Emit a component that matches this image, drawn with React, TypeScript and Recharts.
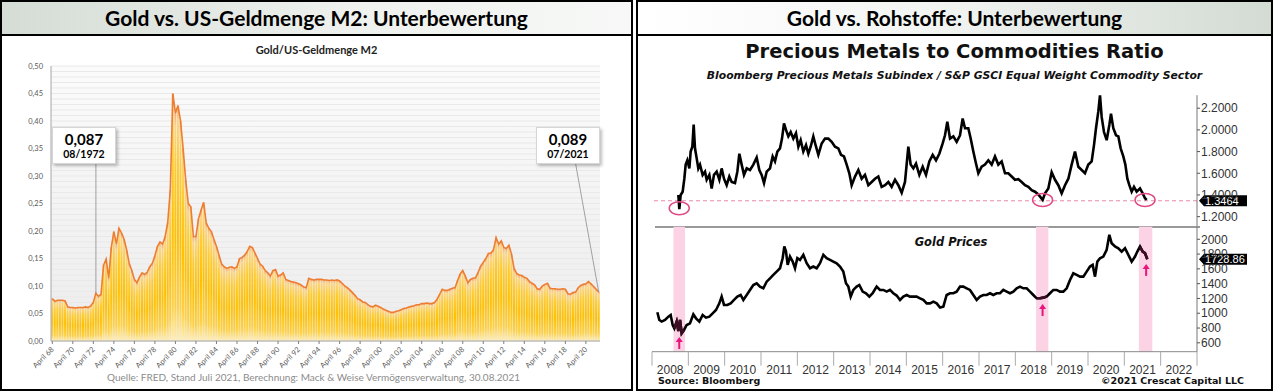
import React from "react";
import {
  ComposedChart,
  LineChart,
  Bar,
  Line,
  XAxis,
  YAxis,
  CartesianGrid,
  ReferenceLine,
  ReferenceArea,
  ReferenceDot,
} from "recharts";

// ---------- left: Gold / US-Geldmenge M2 (quarterly, first point April 1968)
const m2StartYear = 1968;
const m2Quarters = ["Jan", "April", "Juli", "Okt"];
const m2Ratio = [
  0.077, 0.072, 0.074, // 1968
  0.074, 0.074, 0.073, 0.062, // 1969
  0.061, 0.061, 0.060, 0.061, // 1970
  0.061, 0.061, 0.062, 0.061, // 1971
  0.064, 0.070, 0.087, 0.081, // 1972
  0.085, 0.138, 0.149, 0.114, // 1973
  0.170, 0.199, 0.176, 0.205, // 1974
  0.196, 0.185, 0.165, 0.141, // 1975
  0.128, 0.112, 0.106, 0.116, // 1976
  0.124, 0.121, 0.125, 0.135, // 1977
  0.141, 0.155, 0.172, 0.180, // 1978
  0.176, 0.190, 0.215, 0.275, // 1979
  0.450, 0.414, 0.428, 0.400, // 1980
  0.350, 0.293, 0.250, 0.244, // 1981
  0.190, 0.190, 0.222, 0.238, // 1982
  0.252, 0.215, 0.205, 0.199, // 1983
  0.185, 0.172, 0.156, 0.140, // 1984
  0.135, 0.132, 0.134, 0.135, // 1985
  0.132, 0.135, 0.150, 0.152, // 1986
  0.156, 0.163, 0.172, 0.170, // 1987
  0.160, 0.150, 0.140, 0.136, // 1988
  0.128, 0.124, 0.118, 0.128, // 1989
  0.130, 0.118, 0.120, 0.124, // 1990
  0.112, 0.110, 0.108, 0.107, // 1991
  0.106, 0.104, 0.102, 0.098, // 1992
  0.097, 0.114, 0.112, 0.111, // 1993
  0.112, 0.112, 0.112, 0.111, // 1994
  0.111, 0.110, 0.111, 0.110, // 1995
  0.111, 0.109, 0.105, 0.100, // 1996
  0.097, 0.093, 0.088, 0.083, // 1997
  0.077, 0.075, 0.071, 0.070, // 1998
  0.066, 0.063, 0.062, 0.065, // 1999
  0.063, 0.061, 0.058, 0.056, // 2000
  0.054, 0.052, 0.052, 0.054, // 2001
  0.055, 0.057, 0.059, 0.060, // 2002
  0.062, 0.063, 0.064, 0.066, // 2003
  0.066, 0.068, 0.068, 0.069, // 2004
  0.068, 0.068, 0.070, 0.076, // 2005
  0.085, 0.094, 0.092, 0.092, // 2006
  0.094, 0.096, 0.097, 0.110, // 2007
  0.122, 0.128, 0.118, 0.106, // 2008
  0.112, 0.114, 0.115, 0.125, // 2009
  0.136, 0.143, 0.150, 0.159, // 2010
  0.160, 0.166, 0.188, 0.176, // 2011
  0.182, 0.170, 0.168, 0.174, // 2012
  0.158, 0.132, 0.123, 0.120, // 2013
  0.119, 0.116, 0.114, 0.108, // 2014
  0.105, 0.102, 0.095, 0.094, // 2015
  0.100, 0.103, 0.105, 0.096, // 2016
  0.095, 0.095, 0.094, 0.094, // 2017
  0.095, 0.094, 0.086, 0.085, // 2018
  0.088, 0.089, 0.097, 0.101, // 2019
  0.103, 0.104, 0.108, 0.104, // 2020
  0.099, 0.094, 0.089, // 2021
];
const m2YTicks = [0, 0.05, 0.1, 0.15, 0.2, 0.25, 0.3, 0.35, 0.4, 0.45, 0.5];
const m2GridLines = Array.from({ length: 51 }, (_, i) => i / 100);

const m2Data = m2Ratio.map((ratio, i) => {
  const q = i + 1; // April 1968 is quarter 1 of 1968
  const year = m2StartYear + Math.floor(q / 4);
  return {
    cat: `${m2Quarters[q % 4]} ${String(year % 100).padStart(2, "0")}`,
    ratio,
  };
});

// ---------- right: Precious metals / commodities, gold price
const ratioSeries: [number, number][] = [
  [2008.725, 1.4], [2008.752, 1.27], [2008.789, 1.4], [2008.844, 1.43], [2008.89, 1.55],
  [2008.927, 1.68], [2008.972, 1.72], [2009.028, 1.645], [2009.064, 1.8], [2009.11, 1.845],
  [2009.147, 2.05], [2009.183, 1.83], [2009.229, 1.74], [2009.275, 1.645], [2009.321, 1.68],
  [2009.394, 1.585], [2009.459, 1.615], [2009.505, 1.54], [2009.578, 1.585], [2009.642, 1.46],
  [2009.706, 1.585], [2009.78, 1.615], [2009.853, 1.54], [2009.917, 1.645], [2009.982, 1.55],
  [2010.055, 1.49], [2010.128, 1.57], [2010.193, 1.52], [2010.284, 1.51], [2010.349, 1.615],
  [2010.404, 1.78], [2010.468, 1.68], [2010.532, 1.585], [2010.606, 1.645], [2010.697, 1.63],
  [2010.789, 1.68], [2010.881, 1.745], [2010.954, 1.63], [2011.018, 1.585], [2011.083, 1.51],
  [2011.156, 1.615], [2011.248, 1.645], [2011.321, 1.755], [2011.385, 1.71], [2011.45, 1.8],
  [2011.523, 1.83], [2011.578, 1.92], [2011.633, 2.06], [2011.688, 2.0], [2011.752, 1.94],
  [2011.817, 1.98], [2011.89, 1.92], [2011.963, 1.97], [2012.028, 1.845], [2012.092, 1.905],
  [2012.165, 1.8], [2012.239, 1.86], [2012.303, 1.78], [2012.367, 1.845], [2012.44, 1.94],
  [2012.514, 1.845], [2012.578, 1.77], [2012.67, 1.875], [2012.761, 1.92], [2012.853, 1.92],
  [2012.945, 1.89], [2013.037, 1.845], [2013.128, 1.83], [2013.202, 1.77], [2013.284, 1.755],
  [2013.358, 1.68], [2013.431, 1.6], [2013.495, 1.49], [2013.587, 1.57], [2013.679, 1.63],
  [2013.771, 1.55], [2013.862, 1.585], [2013.954, 1.49], [2014.046, 1.52], [2014.138, 1.55],
  [2014.229, 1.57], [2014.321, 1.475], [2014.413, 1.49], [2014.505, 1.52], [2014.596, 1.475],
  [2014.688, 1.54], [2014.78, 1.49], [2014.872, 1.42], [2014.963, 1.52], [2015.055, 1.845],
  [2015.119, 1.68], [2015.193, 1.645], [2015.266, 1.69], [2015.358, 1.585], [2015.45, 1.66],
  [2015.541, 1.585], [2015.633, 1.71], [2015.725, 1.77], [2015.817, 1.72], [2015.908, 1.78],
  [2016.0, 1.875], [2016.064, 1.95], [2016.128, 2.075], [2016.202, 1.92], [2016.294, 1.94],
  [2016.385, 1.89], [2016.477, 1.95], [2016.55, 2.105], [2016.615, 2.015], [2016.706, 2.015],
  [2016.771, 1.92], [2016.844, 1.8], [2016.917, 1.69], [2016.982, 1.6], [2017.073, 1.66],
  [2017.165, 1.68], [2017.257, 1.72], [2017.349, 1.68], [2017.44, 1.755], [2017.532, 1.68],
  [2017.624, 1.71], [2017.716, 1.6], [2017.807, 1.6], [2017.899, 1.57], [2017.991, 1.54],
  [2018.083, 1.545], [2018.174, 1.52], [2018.266, 1.49], [2018.358, 1.475], [2018.45, 1.445],
  [2018.541, 1.43], [2018.633, 1.405], [2018.752, 1.355], [2018.817, 1.415], [2018.908, 1.46],
  [2019.0, 1.61], [2019.092, 1.54], [2019.183, 1.49], [2019.275, 1.415], [2019.367, 1.49],
  [2019.459, 1.55], [2019.55, 1.68], [2019.642, 1.8], [2019.734, 1.66], [2019.826, 1.63],
  [2019.917, 1.6], [2020.009, 1.68], [2020.101, 1.71], [2020.165, 1.86], [2020.22, 2.015],
  [2020.284, 2.17], [2020.33, 2.32], [2020.376, 2.12], [2020.44, 1.98], [2020.514, 1.905],
  [2020.587, 2.045], [2020.633, 2.15], [2020.697, 2.015], [2020.771, 1.95], [2020.835, 1.94],
  [2020.899, 1.83], [2020.972, 1.755], [2021.028, 1.68], [2021.083, 1.55], [2021.138, 1.49],
  [2021.202, 1.43], [2021.266, 1.475], [2021.339, 1.43], [2021.431, 1.46], [2021.505, 1.415],
  [2021.569, 1.37], [2021.615, 1.355],
];

const goldSeries: [number, number][] = [
  [2008.147, 1013], [2008.202, 909], [2008.266, 887], [2008.358, 909], [2008.45, 954],
  [2008.514, 976], [2008.569, 841], [2008.615, 796], [2008.679, 887], [2008.725, 760],
  [2008.771, 909], [2008.817, 729], [2008.881, 774], [2008.954, 841], [2009.046, 864],
  [2009.138, 985], [2009.211, 931], [2009.303, 887], [2009.394, 976], [2009.486, 940],
  [2009.578, 954], [2009.67, 999], [2009.761, 1044], [2009.853, 1134], [2009.917, 1225],
  [2009.982, 1112], [2010.073, 1112], [2010.165, 1134], [2010.257, 1180], [2010.349, 1225],
  [2010.44, 1247], [2010.514, 1180], [2010.606, 1247], [2010.697, 1315], [2010.789, 1382],
  [2010.881, 1405], [2010.972, 1360], [2011.064, 1337], [2011.156, 1427], [2011.248, 1472],
  [2011.339, 1518], [2011.431, 1563], [2011.523, 1608], [2011.596, 1744], [2011.642, 1902],
  [2011.688, 1834], [2011.734, 1653], [2011.798, 1766], [2011.872, 1698], [2011.936, 1608],
  [2012.0, 1744], [2012.073, 1721], [2012.165, 1789], [2012.257, 1676], [2012.349, 1608],
  [2012.44, 1631], [2012.532, 1608], [2012.624, 1676], [2012.716, 1789], [2012.807, 1744],
  [2012.899, 1721], [2012.991, 1698], [2013.083, 1676], [2013.174, 1631], [2013.266, 1563],
  [2013.339, 1405], [2013.404, 1360], [2013.468, 1225], [2013.541, 1315], [2013.633, 1360],
  [2013.706, 1382], [2013.798, 1292], [2013.89, 1270], [2013.982, 1225], [2014.073, 1270],
  [2014.183, 1360], [2014.275, 1315], [2014.367, 1315], [2014.459, 1292], [2014.55, 1315],
  [2014.642, 1270], [2014.734, 1239], [2014.826, 1180], [2014.917, 1225], [2015.009, 1247],
  [2015.101, 1225], [2015.193, 1225], [2015.284, 1225], [2015.376, 1202], [2015.468, 1180],
  [2015.56, 1134], [2015.651, 1134], [2015.743, 1157], [2015.835, 1134], [2015.927, 1076],
  [2016.018, 1089], [2016.11, 1247], [2016.202, 1270], [2016.294, 1270], [2016.385, 1292],
  [2016.477, 1360], [2016.569, 1360], [2016.661, 1337], [2016.752, 1315], [2016.844, 1247],
  [2016.936, 1180], [2017.028, 1225], [2017.119, 1247], [2017.211, 1247], [2017.303, 1270],
  [2017.394, 1247], [2017.486, 1270], [2017.578, 1270], [2017.67, 1315], [2017.761, 1292],
  [2017.853, 1270], [2017.945, 1292], [2018.037, 1337], [2018.128, 1360], [2018.22, 1337],
  [2018.312, 1337], [2018.404, 1292], [2018.495, 1247], [2018.587, 1202], [2018.679, 1202],
  [2018.771, 1211], [2018.862, 1225], [2018.954, 1270], [2019.046, 1315], [2019.138, 1315],
  [2019.229, 1292], [2019.321, 1292], [2019.413, 1337], [2019.505, 1450], [2019.596, 1540],
  [2019.688, 1518], [2019.78, 1495], [2019.872, 1495], [2019.963, 1563], [2020.055, 1631],
  [2020.128, 1653], [2020.193, 1495], [2020.257, 1698], [2020.33, 1744], [2020.422, 1766],
  [2020.514, 1857], [2020.587, 2060], [2020.651, 1946], [2020.743, 1902], [2020.835, 1879],
  [2020.927, 1834], [2021.018, 1879], [2021.11, 1789], [2021.202, 1698], [2021.294, 1766],
  [2021.358, 1834], [2021.431, 1902], [2021.505, 1834], [2021.569, 1812], [2021.633, 1729],
];

const yearTicks = [2008, 2009, 2010, 2011, 2012, 2013, 2014, 2015, 2016, 2017, 2018, 2019, 2020, 2021, 2022, 2023];
const ratioTicks = [1.2, 1.4, 1.6, 1.8, 2.0, 2.2];
const goldTicks = [600, 800, 1000, 1200, 1400, 1600, 1800, 2000];
const pinkBands: [number, number][] = [[2008.59, 2008.91], [2018.57, 2018.91], [2021.4, 2021.77]];
const ratioLows: [number, number][] = [[2008.75, 1.277], [2018.75, 1.354], [2021.57, 1.354]];
const goldArrows: [number, number][] = [[2008.75, 598], [2018.75, 1044], [2021.6, 1586]];
const lastRatio = 1.3464;
const lastGold = 1728.86;

const ratioData = ratioSeries.map(([t, v]) => ({ t, v }));
const goldData = goldSeries.map(([t, v]) => ({ t, v }));

const calibri = "Lato, 'Open Sans', sans-serif";
const tahoma = "'DejaVu Sans', Verdana, sans-serif";
const arial = "'Liberation Sans', Arial, sans-serif";

const fmtComma = (v: number) => v.toFixed(2).replace(".", ",");

const RotTick = (props: any) => {
  const { x, y, payload } = props;
  return (
    <text
      x={x + 2}
      y={y + 4}
      transform={`rotate(-45 ${x + 2} ${y + 4})`}
      textAnchor="end"
      fontSize={7.5}
      fill="#595959"
      fontFamily={calibri}
    >
      {payload.value}
    </text>
  );
};

const YearTick = (props: any) => {
  const { x, y, payload } = props;
  const halfYear = 545 / 15 / 2;
  return (
    <g>
      <line x1={x} y1={y} x2={x} y2={y + 14} stroke="#aaa" strokeWidth={1} />
      {payload.value < 2023 && (
        <text x={x + halfYear} y={y + 22} textAnchor="middle" fontSize={12} fill="#333" fontFamily={arial}>
          {payload.value}
        </text>
      )}
    </g>
  );
};

const valueTag = (text: string) => (props: any) => {
  const { cx, cy } = props;
  return (
    <g>
      <polygon
        points={`${cx + 2},${cy} ${cx + 7},${cy - 5.5} ${cx + 50},${cy - 5.5} ${cx + 50},${cy + 5.5} ${cx + 7},${cy + 5.5}`}
        fill="#000"
      />
      <text x={cx + 8} y={cy + 4} fontSize={11} fill="#fff" fontFamily={arial}>
        {text}
      </text>
    </g>
  );
};

const LowRing = (props: any) => (
  <ellipse cx={props.cx} cy={props.cy} rx={10} ry={6.5} fill="none" stroke="#e04a86" strokeWidth={1.5} />
);

const UpArrow = (props: any) => {
  const { cx, cy } = props;
  return (
    <g>
      <line x1={cx} y1={cy + 6} x2={cx} y2={cy - 2} stroke="#e8157f" strokeWidth={2} />
      <polygon points={`${cx - 3.5},${cy - 1} ${cx},${cy - 6} ${cx + 3.5},${cy - 1}`} fill="#e8157f" />
    </g>
  );
};

const Callout = ({ left, value, date }: { left: number; value: string; date: string }) => (
  <div
    style={{
      position: "absolute",
      left,
      top: 127,
      width: 64,
      height: 37,
      background: "#fff",
      border: "1px solid #d6d6d6",
      boxShadow: "2px 2px 3px rgba(0,0,0,0.25)",
      boxSizing: "border-box",
      textAlign: "center",
      fontFamily: calibri,
      fontWeight: 700,
      color: "#000",
    }}
  >
    <div style={{ fontSize: 15, lineHeight: "17px", marginTop: 3 }}>{value}</div>
    <div style={{ fontSize: 10.5, lineHeight: "13px" }}>{date}</div>
  </div>
);

export default function App() {
  const abs = (s: React.CSSProperties): React.CSSProperties => ({ position: "absolute", ...s });
  return (
    <div style={abs({ left: 0, top: 0, width: 1273, height: 392, background: "#fff", overflow: "hidden" })}>
      {/* title bars */}
      <div style={abs({ left: 0, top: 0, width: 633, height: 35, background: "linear-gradient(to right, #d5dcd5, #eef1ee 55%, #f7f8f7)" })} />
      <div style={abs({ left: 636, top: 0, width: 637, height: 35, background: "linear-gradient(to right, #ffffff, #f3f5f3 45%, #d3dbd3)" })} />
      <div style={abs({ left: 0, top: 0, width: 633, height: 35, lineHeight: "35px", textAlign: "center", fontFamily: calibri, fontWeight: 700, fontSize: 21, color: "#000" })}>
        Gold vs. US-Geldmenge M2: Unterbewertung
      </div>
      <div style={abs({ left: 636, top: 0, width: 637, height: 35, lineHeight: "35px", textAlign: "center", fontFamily: calibri, fontWeight: 700, fontSize: 21, color: "#000" })}>
        Gold vs. Rohstoffe: Unterbewertung
      </div>

      {/* left chart */}
      <div style={abs({ left: 0, top: 43, width: 633, textAlign: "center", fontFamily: calibri, fontWeight: 700, fontSize: 11, color: "#222" })}>
        Gold/US-Geldmenge M2
      </div>
      <div style={abs({ left: 0, top: 0 })}>
        <ComposedChart width={633} height={392} data={m2Data} margin={{ top: 66, right: 33, left: 21, bottom: 6 }} barCategoryGap="8%">
          <defs>
            <linearGradient id="m2Bg" x1="0" y1="0" x2="0" y2="1">
              <stop offset="0%" stopColor="#fbfbfb" />
              <stop offset="100%" stopColor="#ececec" />
            </linearGradient>
            <linearGradient id="m2Bar" x1="0" y1="0" x2="0" y2="1">
              <stop offset="0%" stopColor="#f4ad78" />
              <stop offset="6%" stopColor="#fcd584" />
              <stop offset="25%" stopColor="#ffcb2e" />
              <stop offset="55%" stopColor="#ffc000" />
              <stop offset="85%" stopColor="#ffd040" />
              <stop offset="100%" stopColor="#ffeeb8" />
            </linearGradient>
          </defs>
          <CartesianGrid vertical={false} horizontalValues={m2GridLines} stroke="#e9e9e9" fill="url(#m2Bg)" />
          <XAxis
            dataKey="cat"
            interval={7}
            tick={<RotTick />}
            tickSize={3}
            tickLine={{ stroke: "#7f7f7f" }}
            axisLine={{ stroke: "#a6a6a6" }}
            height={45}
          />
          <YAxis
            domain={[0, 0.5]}
            ticks={m2YTicks}
            interval={0}
            tickFormatter={fmtComma}
            width={30}
            tickLine={false}
            axisLine={{ stroke: "#a6a6a6" }}
            tick={{ fontSize: 7.5, fill: "#595959", fontFamily: calibri }}
          />
          <Bar dataKey="ratio" fill="url(#m2Bar)" isAnimationActive={false} />
          <Line dataKey="ratio" stroke="#ed7d31" strokeWidth={1.6} dot={false} isAnimationActive={false} type="linear" />
          <ReferenceLine
            segment={[{ x: "Juli 72", y: 0.087 }, { x: "Juli 72", y: 0.322 }]}
            stroke="#8c8c8c"
            strokeWidth={0.8}
            ifOverflow="visible"
          />
          <ReferenceLine
            segment={[{ x: "April 19", y: 0.322 }, { x: "Juli 21", y: 0.089 }]}
            stroke="#8c8c8c"
            strokeWidth={0.8}
            ifOverflow="visible"
          />
        </ComposedChart>
      </div>
      <Callout left={52} value="0,087" date="08/1972" />
      <Callout left={536} value="0,089" date="07/2021" />
      <div style={abs({ left: 0, top: 371, width: 627, textAlign: "center", fontFamily: calibri, fontSize: 10, color: "#8c8c8c" })}>
        Quelle: FRED, Stand Juli 2021, Berechnung: Mack &amp; Weise Vermögensverwaltung, 30.08.2021
      </div>

      {/* right charts */}
      <div style={abs({ left: 636, top: 40, width: 637, textAlign: "center", fontFamily: tahoma, fontWeight: 700, fontSize: 19.5, color: "#111" })}>
        Precious Metals to Commodities Ratio
      </div>
      <div style={abs({ left: 636, top: 69, width: 637, textAlign: "center", fontFamily: tahoma, fontWeight: 700, fontStyle: "italic", fontSize: 10.8, color: "#111" })}>
        Bloomberg Precious Metals Subindex / S&amp;P GSCI Equal Weight Commodity Sector
      </div>
      <div style={abs({ left: 640, top: 88 })}>
        <LineChart width={633} height={142} data={ratioData} margin={{ top: 7.2, right: 16, left: 12, bottom: 2.5 }}>
          <XAxis dataKey="t" type="number" domain={[2008, 2023]} hide />
          <YAxis
            orientation="right"
            domain={[1.1, 2.32]}
            ticks={ratioTicks}
            interval={0}
            allowDataOverflow
            width={60}
            tickFormatter={(v: number) => v.toFixed(4)}
            tickSize={3}
            tickMargin={1}
            tickLine={{ stroke: "#555" }}
            axisLine={{ stroke: "#777" }}
            tick={{ fontSize: 12, fill: "#333", fontFamily: arial, textAnchor: "start" }}
          />
          <ReferenceLine y={lastRatio} stroke="#e889aa" strokeDasharray="4 3" strokeWidth={1} />
          <Line dataKey="v" stroke="#000" strokeWidth={2.6} dot={false} isAnimationActive={false} type="linear" />
          {ratioLows.map(([t, v], i) => (
            <ReferenceDot key={i} x={t} y={v} r={10} shape={<LowRing />} ifOverflow="visible" />
          ))}
          <ReferenceDot x={2023} y={lastRatio} r={1} shape={valueTag("1.3464")} ifOverflow="visible" />
        </LineChart>
      </div>
      <div style={abs({ left: 655, top: 226, width: 545, height: 2, background: "#999" })} />
      <div style={abs({ left: 640, top: 220 })}>
        <LineChart width={633} height={170} data={goldData} margin={{ top: 6.7, right: 16, left: 12, bottom: 8.3 }}>
          {pinkBands.map(([a, b], i) => (
            <ReferenceArea key={i} x1={a} x2={b} fill="#fbd3e5" fillOpacity={1} stroke="none" ifOverflow="visible" />
          ))}
          <XAxis
            dataKey="t"
            type="number"
            domain={[2008, 2023]}
            ticks={yearTicks}
            interval={0}
            tick={<YearTick />}
            tickLine={false}
            tickSize={0}
            tickMargin={0}
            axisLine={{ stroke: "#888" }}
            height={30}
          />
          <YAxis
            orientation="right"
            domain={[480, 2170]}
            ticks={goldTicks}
            interval={0}
            allowDataOverflow
            width={60}
            tickSize={3}
            tickMargin={1}
            tickLine={{ stroke: "#555" }}
            axisLine={{ stroke: "#777" }}
            tick={{ fontSize: 12, fill: "#333", fontFamily: arial, textAnchor: "start" }}
          />
          <Line dataKey="v" stroke="#000" strokeWidth={2.6} dot={false} isAnimationActive={false} type="linear" />
          {pinkBands.map(([a, b], i) => (
            <Line
              key={`b${i}`}
              data={goldData.filter((d) => d.t >= a && d.t <= b)}
              dataKey="v"
              stroke="#3d0b24"
              strokeWidth={2.6}
              dot={false}
              isAnimationActive={false}
              type="linear"
            />
          ))}
          {goldArrows.map(([t, v], i) => (
            <ReferenceDot key={i} x={t} y={v} r={4} shape={<UpArrow />} ifOverflow="visible" />
          ))}
          <ReferenceDot x={2023} y={lastGold} r={1} shape={valueTag("1728.86")} ifOverflow="visible" />
        </LineChart>
      </div>
      <div style={abs({ left: 636, top: 235, width: 630, textAlign: "center", fontFamily: tahoma, fontWeight: 700, fontStyle: "italic", fontSize: 11.5, color: "#111" })}>
        Gold Prices
      </div>
      <div style={abs({ left: 658, top: 375, fontFamily: tahoma, fontWeight: 700, fontSize: 9.5, color: "#111" })}>
        Source: Bloomberg
      </div>
      <div style={abs({ left: 1000, top: 375, width: 244, textAlign: "right", fontFamily: tahoma, fontWeight: 700, fontSize: 9.5, color: "#111" })}>
        ©2021 Crescat Capital LLC
      </div>

      {/* frames */}
      <div style={abs({ left: 0, top: 0, width: 633, height: 391, border: "2px solid #000", boxSizing: "border-box" })} />
      <div style={abs({ left: 0, top: 34, width: 633, height: 1.5, background: "#000" })} />
      <div style={abs({ left: 636, top: 0, width: 637, height: 391, border: "2px solid #000", boxSizing: "border-box" })} />
      <div style={abs({ left: 636, top: 34, width: 637, height: 1.5, background: "#000" })} />
    </div>
  );
}
